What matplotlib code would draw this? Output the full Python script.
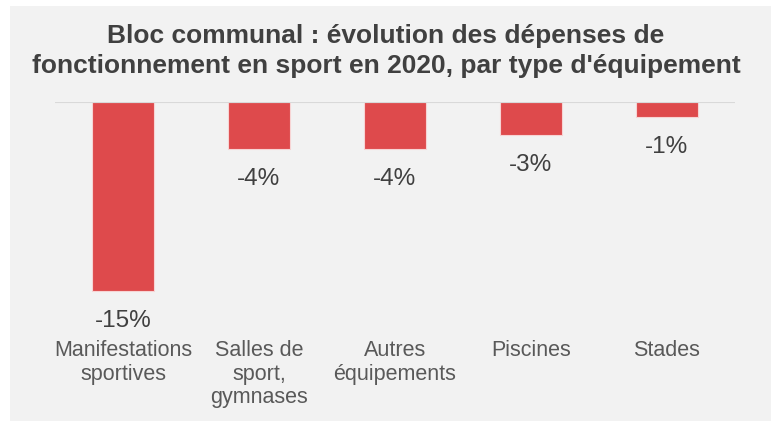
import matplotlib
matplotlib.use("Agg")
import matplotlib.pyplot as plt
from matplotlib.patches import Rectangle

plt.rcParams['font.family'] = ['Liberation Sans', 'DejaVu Sans']

categories = ["Manifestations\nsportives", "Salles de\nsport,\ngymnases",
              "Autres\néquipements", "Piscines", "Stades"]
values = [-15.0, -3.7, -3.7, -2.6, -1.2]
title = "Bloc communal : évolution des dépenses de\nfonctionnement en sport en 2020, par type d'équipement"

BAR_COLOR = "#DE4A4C"
BG = "#F2F2F2"

W, H = 781, 431
fig = plt.figure(figsize=(W / 100, H / 100), dpi=100)
fig.patch.set_facecolor("white")
# grey panel
fig.patches.append(Rectangle((10 / W, 1 - 422 / H), 761 / W, 415 / H,
                             transform=fig.transFigure, facecolor=BG,
                             edgecolor="none", zorder=-1))

# axes: x from 55 to 735 px, y top at 103 px
top, bottom = 103, 336
ax = fig.add_axes([55 / W, 1 - bottom / H, 680 / W, (bottom - top) / H])
ax.set_facecolor("none")
ax.set_zorder(2)
px_per_unit = 189 / 15
ax.set_ylim(-(bottom - top) / px_per_unit, 0)
ax.set_xlim(-0.5, len(values) - 0.5)

x = range(len(values))
ax.bar(x, values, width=0.46, color=BAR_COLOR, edgecolor="#F7D4D4",
       linewidth=0.8, zorder=2)
for xi, v in zip(x, values):
    ax.annotate("%.0f%%" % v, (xi, v), xytext=(0, -21), textcoords="offset points",
                ha="center", va="center", fontsize=17.5, color="#404040")

ax.axhline(0, color="#D9D9D9", linewidth=1.5, zorder=3)
for s in ax.spines.values():
    s.set_visible(False)
ax.set_yticks([])
ax.set_xticks(list(x))
ax.set_xticklabels(categories, fontsize=15.5, color="#595959", linespacing=1.15)
ax.tick_params(axis="x", length=0, pad=3)

fig.text(386 / W, 1 - 51 / H, title, ha="center", va="center", fontsize=19,
         fontweight="bold", color="#404040", linespacing=1.3)

fig.savefig("out.png", dpi=100)
